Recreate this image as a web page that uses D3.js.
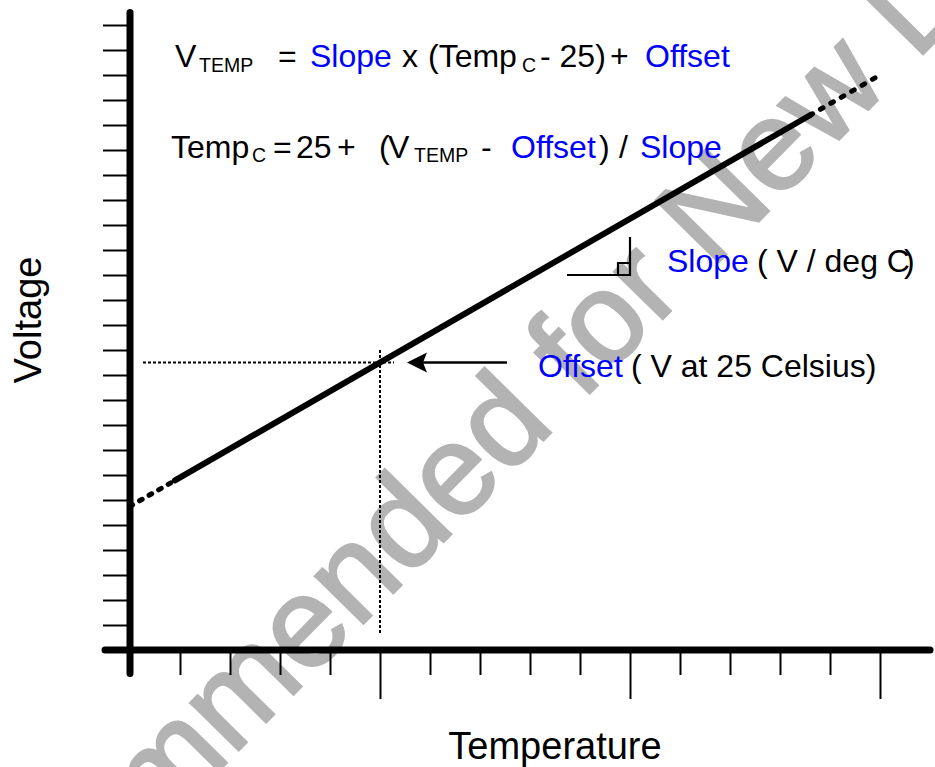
<!DOCTYPE html>
<html>
<head>
<meta charset="utf-8">
<script src="https://cdn.jsdelivr.net/npm/d3@7"></script>
<style>
  html, body { margin: 0; padding: 0; background: #fff; }
  svg { display: block; }
  text { font-family: "Liberation Sans", Arial, Helvetica, sans-serif; }
</style>
</head>
<body>
<svg id="chart" width="935" height="767"></svg>
<script>
// Temperature (deg C) and voltage axes
const tempDomain = [-25, 125];
const tempTicks = [-15, -5, 5, 15, 25, 35, 45, 55, 65, 75, 85, 95, 105, 115, 125];
const tempMajorTicks = [25, 75, 125];
const voltDomain = [0, 25];
const voltTicks = [1, 2, 3, 4, 5, 6, 7, 8, 9, 10, 11, 12, 13, 14, 15, 16, 17, 18, 19, 20, 21, 22, 23, 24, 25];

// Transfer line: dashed below/above the specified range, solid inside it
const lowTemps = [-25, -16];
const lowVolts = [5.75, 6.785];
const solidTemps = [-16, 111];
const solidVolts = [6.785, 21.39];
const highTemps = [111, 125];
const highVolts = [21.39, 23.0];

// Offset point: voltage at 25 deg C
const offsetTemp = 25;
const offsetVolt = 11.5;

const svg = d3.select("#chart");
const x = d3.scaleLinear().domain(tempDomain).range([130, 880]);
const y = d3.scaleLinear().domain(voltDomain).range([650, 25]);

// Background watermark
const wmSize = 128;
svg.append("g")
  .attr("transform", "translate(524,460) rotate(-45.5)")
  .append("text")
  .attr("x", -8.25 * wmSize)
  .attr("y", 0)
  .attr("font-size", wmSize)
  .attr("fill", "#b3b3b3")
  .attr("stroke", "#b3b3b3")
  .attr("stroke-width", 2.5)
  .text("Not Recommended for New Designs");

// Tick marks
const yAxis = svg.append("g")
  .attr("transform", "translate(130,0)")
  .call(d3.axisLeft(y).tickValues(voltTicks).tickSize(27).tickFormat(""));
yAxis.select(".domain").remove();
yAxis.selectAll(".tick line").attr("stroke", "#000").attr("stroke-width", 2);

const xAxis = svg.append("g")
  .attr("transform", "translate(0,650)")
  .call(d3.axisBottom(x).tickValues(tempTicks).tickSize(25).tickFormat(""));
xAxis.select(".domain").remove();
xAxis.selectAll(".tick line")
  .attr("stroke", "#000").attr("stroke-width", 2)
  .attr("y2", d => tempMajorTicks.includes(d) ? 49 : 25);

// Heavy axis lines
svg.append("line")
  .attr("x1", x(tempDomain[0])).attr("x2", x(tempDomain[0]))
  .attr("y1", y(25.5)).attr("y2", y(-0.94))
  .attr("stroke", "#000").attr("stroke-width", 7).attr("stroke-linecap", "round");
svg.append("line")
  .attr("x1", x(-30)).attr("x2", x(135))
  .attr("y1", y(0)).attr("y2", y(0))
  .attr("stroke", "#000").attr("stroke-width", 7).attr("stroke-linecap", "round");

// Offset guides
svg.append("line")
  .attr("x1", x(-22.4)).attr("x2", x(27.8))
  .attr("y1", y(offsetVolt)).attr("y2", y(offsetVolt))
  .attr("stroke", "#000").attr("stroke-width", 2).attr("stroke-dasharray", "3,2");
svg.append("line")
  .attr("x1", x(offsetTemp)).attr("x2", x(offsetTemp))
  .attr("y1", y(12)).attr("y2", y(0.6))
  .attr("stroke", "#000").attr("stroke-width", 2).attr("stroke-dasharray", "3,2");

// Transfer line
const line = d3.line().x(d => x(d[0])).y(d => y(d[1]));
svg.append("path")
  .datum(d3.zip(lowTemps, lowVolts))
  .attr("d", line).attr("fill", "none").attr("stroke", "#000")
  .attr("stroke-width", 5).attr("stroke-linecap", "round").attr("stroke-dasharray", "3,8");
svg.append("path")
  .datum(d3.zip(highTemps, highVolts))
  .attr("d", line).attr("fill", "none").attr("stroke", "#000")
  .attr("stroke-width", 5).attr("stroke-linecap", "round").attr("stroke-dasharray", "3,9");
svg.append("path")
  .datum(d3.zip(solidTemps, solidVolts))
  .attr("d", line).attr("fill", "none").attr("stroke", "#000")
  .attr("stroke-width", 6).attr("stroke-linecap", "round");

// Arrow pointing at the offset point
const ay = y(offsetVolt);
const tipX = x(30.4);
svg.append("line")
  .attr("x1", tipX + 12).attr("x2", x(50.4))
  .attr("y1", ay).attr("y2", ay)
  .attr("stroke", "#000").attr("stroke-width", 2.5);
svg.append("path")
  .attr("d", `M${tipX},${ay} L${tipX + 20},${ay - 10} L${tipX + 16},${ay} L${tipX + 20},${ay + 10} Z`)
  .attr("fill", "#000");

// Slope symbol
const sx0 = x(62.4), sx1 = x(75), sy0 = y(15), sy1 = y(16.52);
svg.append("path")
  .attr("d", `M${sx0},${sy0} H${sx1} V${sy1} M${sx1 - 12},${sy0} V${sy0 - 12} H${sx1}`)
  .attr("fill", "none").attr("stroke", "#000").attr("stroke-width", 2.2);

// Text
const BLUE = "#0000ff";
const pieces = [
  // equation 1
  ["V", 175, 67, 32, "#000"],
  ["TEMP", 199, 72, 19.5, "#000"],
  ["=", 278, 67, 32, "#000"],
  ["Slope", 310, 67, 32, BLUE],
  ["x", 402, 67, 32, "#000"],
  ["(Temp", 428, 67, 32, "#000"],
  ["C", 522, 72, 19.5, "#000"],
  ["- 25)", 540, 67, 32, "#000"],
  ["+", 610, 67, 32, "#000"],
  ["Offset", 645, 67, 32, BLUE],
  // equation 2
  ["Temp", 171, 158, 32, "#000"],
  ["C", 252, 162, 19.5, "#000"],
  ["=", 273, 158, 32, "#000"],
  ["25", 296, 158, 32, "#000"],
  ["+", 337, 158, 32, "#000"],
  ["(", 379, 158, 32, "#000"],
  ["V", 388, 158, 32, "#000"],
  ["TEMP", 414, 162, 19.5, "#000"],
  ["-", 481, 158, 32, "#000"],
  ["Offset", 511, 158, 32, BLUE],
  [")", 599, 158, 32, "#000"],
  ["/", 619, 158, 32, "#000"],
  ["Slope", 640, 158, 32, BLUE],
  // annotations
  ["Slope", 667, 272, 32, BLUE],
  ["Offset", 538, 377, 32, BLUE],
  ["( V at 25 Celsius)", 631, 377, 32, "#000"]
];
svg.append("g").selectAll("text")
  .data(pieces).join("text")
  .attr("x", d => d[1]).attr("y", d => d[2])
  .attr("font-size", d => d[3]).attr("fill", d => d[4])
  .text(d => d[0]);

// Unit label with the closing parenthesis tucked against the C
const unit = svg.append("text")
  .attr("x", 757).attr("y", 272).attr("font-size", 32);
unit.append("tspan").text("( V / deg C");
unit.append("tspan").attr("dx", -6).text(")");

// Axis titles
svg.append("text")
  .attr("x", 555).attr("y", 759)
  .attr("text-anchor", "middle").attr("font-size", 38)
  .text("Temperature");
svg.append("text")
  .attr("transform", "translate(41,320) rotate(-90)")
  .attr("text-anchor", "middle").attr("font-size", 38)
  .text("Voltage");
</script>
</body>
</html>
